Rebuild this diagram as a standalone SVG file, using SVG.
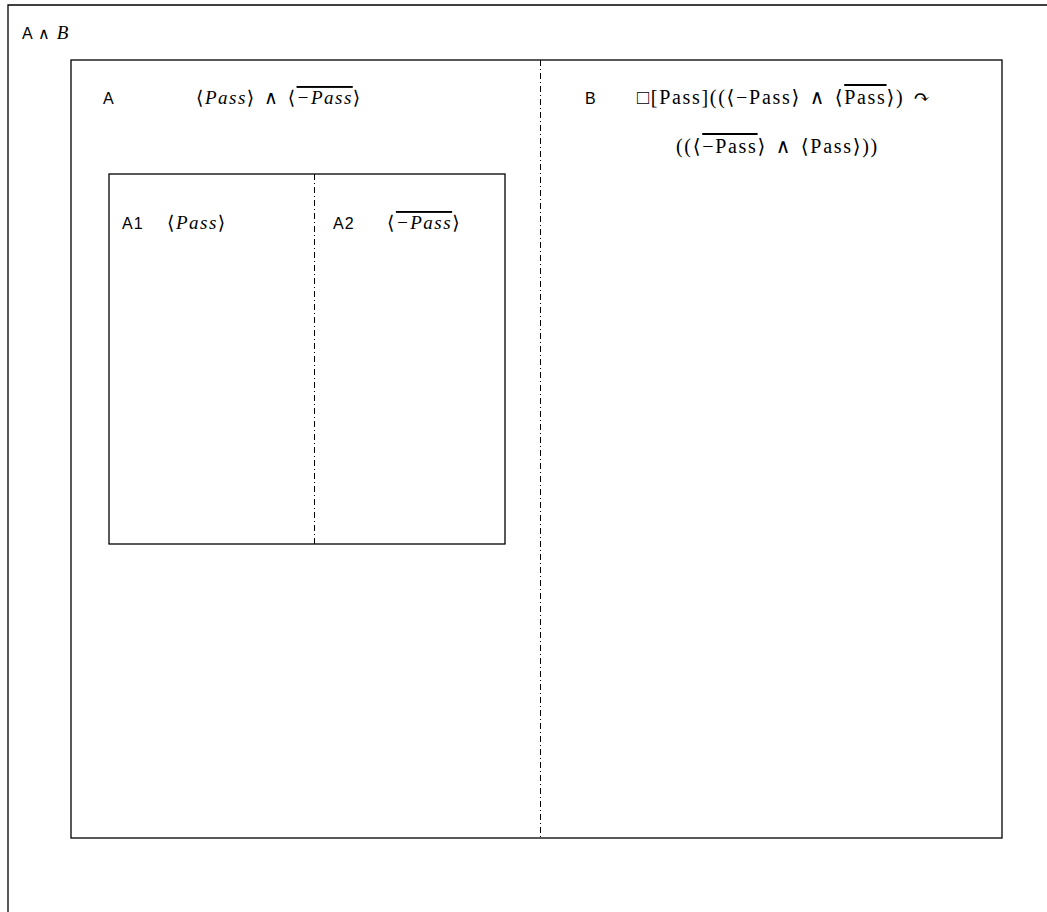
<svg xmlns="http://www.w3.org/2000/svg" width="1047" height="912" viewBox="0 0 1047 912">
<style>
.box{fill:none;stroke:#000;stroke-width:1.3}
.div{stroke:#000;stroke-width:1;stroke-dasharray:6 3 1 3;fill:none}
.lbl{font-family:"Liberation Sans",Arial,sans-serif;font-size:16px;letter-spacing:1px;fill:#000}
.ms{font-family:"Liberation Serif","DejaVu Serif",serif;font-size:19px;letter-spacing:1.5px;word-spacing:2px;fill:#000}
.mb{font-family:"Liberation Serif","DejaVu Serif",serif;font-size:20px;letter-spacing:1.7px;word-spacing:2px;fill:#000}
.it{font-style:italic}
.ol{text-decoration:overline}
</style>
<rect width="1047" height="912" fill="#fff"/>
<g id="outer">
<path class="box" d="M8,912 V5 H1047"/>
<text class="lbl" x="22" y="39">A ∧ <tspan style="font-family:'Liberation Serif',serif;font-size:19px;font-style:italic">B</tspan></text>
</g>
<g id="AB">
<rect class="box" x="71" y="60" width="931" height="778"/>
</g>
<g id="A">
<text class="lbl" x="103" y="104">A</text>
<text class="ms" x="196" y="104">⟨<tspan class="it">Pass</tspan>⟩ ∧ ⟨<tspan class="it ol">−Pass</tspan>⟩</text>
</g>
<g id="B">
<text class="lbl" x="585" y="104">B</text>
<text class="mb" x="637" y="104">□[Pass]((⟨−Pass⟩ ∧ ⟨<tspan class="ol">Pass</tspan>⟩) ↷</text>
<text class="mb" x="676" y="153">((⟨<tspan class="ol">−Pass</tspan>⟩ ∧ ⟨Pass⟩))</text>
</g>
<g id="A12">
<rect class="box" x="109" y="174" width="396" height="370"/>
</g>
<g id="A1">
<text class="lbl" x="122" y="229">A1</text>
<text class="ms" x="167" y="229">⟨<tspan class="it">Pass</tspan>⟩</text>
</g>
<g id="A2">
<text class="lbl" x="333" y="229">A2</text>
<text class="ms" x="387" y="229">⟨<tspan class="it ol">−Pass</tspan>⟩</text>
</g>
<g id="connectors">
<line class="div" x1="540.5" y1="60" x2="540.5" y2="838"/>
<line class="div" x1="314.5" y1="174" x2="314.5" y2="544"/>
</g>
</svg>
